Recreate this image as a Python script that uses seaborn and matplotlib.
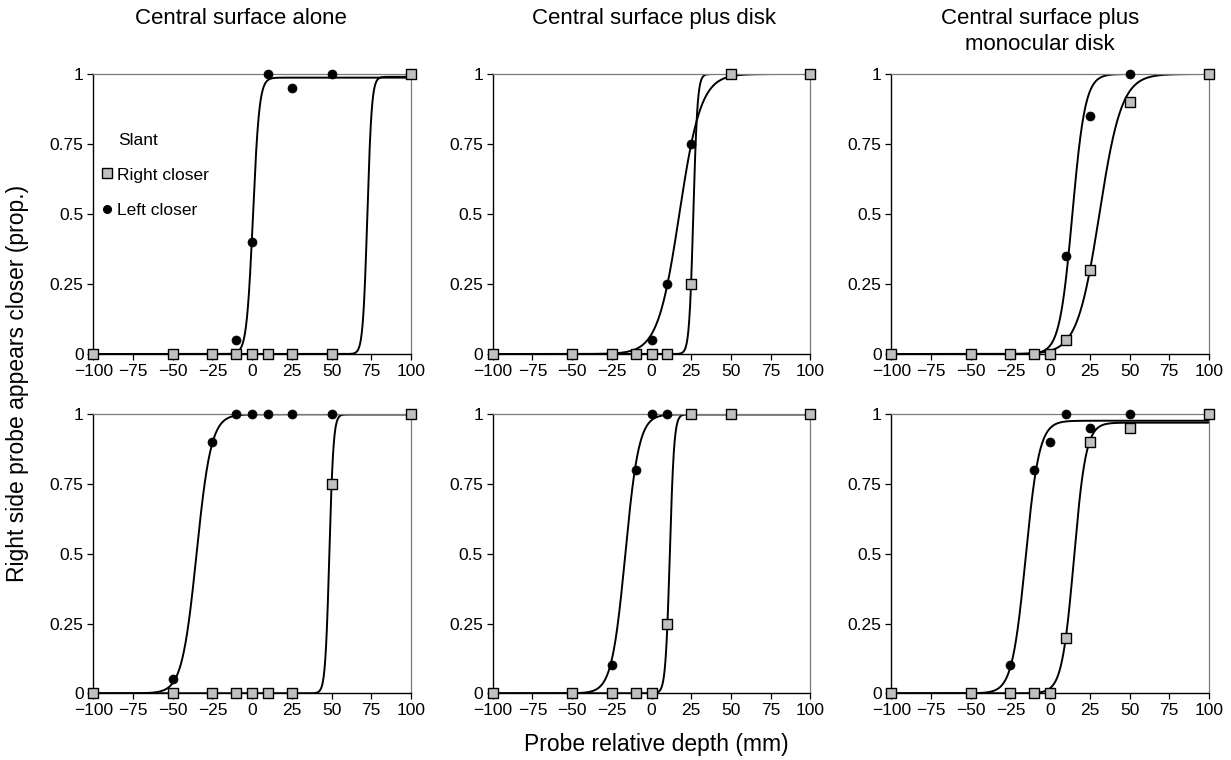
import numpy as np
import pandas as pd
import matplotlib
matplotlib.use("Agg")
import matplotlib.pyplot as plt
from matplotlib.lines import Line2D
import seaborn as sns

# ---------------- data ----------------
probe_depth = [-100, -50, -25, -10, 0, 10, 25, 50, 100]

panel_titles = ["Central surface alone", "Central surface plus disk",
                "Central surface plus\nmonocular disk",
                None, None, None]

# proportions "right side appears closer", one list per panel (row-major)
right_closer = [
    [0, 0, 0, 0, 0, 0, 0, 0, 1],
    [0, 0, 0, 0, 0, 0, 0.25, 1, 1],
    [0, 0, 0, 0, 0, 0.05, 0.30, 0.90, 1],
    [0, 0, 0, 0, 0, 0, 0, 0.75, 1],
    [0, 0, 0, 0, 0, 0.25, 1, 1, 1],
    [0, 0, 0, 0, 0, 0.20, 0.90, 0.95, 1],
]
left_closer = [
    [0, 0, 0, 0.05, 0.40, 1, 0.95, 1, 1],
    [0, 0, 0, 0, 0.05, 0.25, 0.75, 1, 1],
    [0, 0, 0, 0, 0, 0.35, 0.85, 1, 1],
    [0, 0.05, 0.90, 1, 1, 1, 1, 1, 1],
    [0, 0, 0.10, 0.80, 1, 1, 1, 1, 1],
    [0, 0, 0.10, 0.80, 0.90, 1, 0.95, 1, 1],
]

# fitted psychometric (logistic) parameters per panel: midpoint, spread, asymptote
right_mu = [72.5, 26.3, 31.0, 48.6, 11.5, 15.0]
right_s = [1.4, 1.3, 7.0, 1.3, 1.36, 3.8]
right_lam = [0.99, 1.0, 1.0, 1.0, 1.0, 0.97]
left_mu = [0.5, 17.5, 14.0, -35.0, -16.5, -15.4]
left_s = [2.0, 6.8, 4.05, 4.6, 4.3, 4.3]
left_lam = [0.987, 1.0, 1.0, 1.0, 1.0, 0.977]

# ---------------- style ----------------
sns.set_style("white")
plt.rcParams["font.family"] = ["Liberation Sans", "DejaVu Sans"]
plt.rcParams["axes.unicode_minus"] = True
plt.rcParams["text.color"] = "black"
plt.rcParams["xtick.color"] = "black"
plt.rcParams["ytick.color"] = "black"

W, H = 1231, 760
fig = plt.figure(figsize=(W / 100, H / 100), dpi=100)

col_left = [93.3, 492.7, 891.3]
ax_w = 317.7
row_top = [74.0, 414.3]
ax_h = [280.0, 279.0]
title_cx = [241, 654, 1040]

def logistic(x, mu, s, lam):
    return lam / (1.0 + np.exp(-(x - mu) / s))

xgrid = np.linspace(-100, 100, 1601)

for i in range(6):
    r, c = divmod(i, 3)
    left = col_left[c] / W
    bottom = 1 - (row_top[r] + ax_h[r]) / H
    ax = fig.add_axes([left, bottom, ax_w / W, ax_h[r] / H])

    curves = pd.DataFrame({
        "x": np.concatenate([xgrid, xgrid]),
        "y": np.concatenate([logistic(xgrid, right_mu[i], right_s[i], right_lam[i]),
                             logistic(xgrid, left_mu[i], left_s[i], left_lam[i])]),
        "series": ["Right closer"] * len(xgrid) + ["Left closer"] * len(xgrid),
    })
    sns.lineplot(data=curves, x="x", y="y", units="series", estimator=None,
                 color="black", lw=1.4, ax=ax, legend=False)

    pts_left = pd.DataFrame({"x": probe_depth, "y": left_closer[i]})
    pts_right = pd.DataFrame({"x": probe_depth, "y": right_closer[i]})
    sns.scatterplot(data=pts_left, x="x", y="y", marker="o", s=42,
                    color="black", edgecolor="black", linewidth=0.5,
                    ax=ax, clip_on=False, zorder=5, legend=False)
    sns.scatterplot(data=pts_right, x="x", y="y", marker="s", s=62,
                    color="#c0c0c0", edgecolor="black", linewidth=1.0,
                    ax=ax, clip_on=False, zorder=6, legend=False)

    ax.set_xlim(-100, 100)
    ax.set_ylim(0, 1)
    ax.set_xticks([-100, -75, -50, -25, 0, 25, 50, 75, 100])
    ax.set_yticks([0, 0.25, 0.5, 0.75, 1])
    ax.set_yticklabels(["0", "0.25", "0.5", "0.75", "1"])
    ax.set_xlabel("")
    ax.set_ylabel("")
    ax.tick_params(axis="both", direction="out", length=4.5, width=0.9,
                   labelsize=12.5, color="black", labelcolor="black",
                   bottom=True, left=True, top=False, right=False)
    ax.tick_params(axis="x", pad=2.5)
    ax.tick_params(axis="y", pad=2.5)
    for side in ["left", "bottom"]:
        ax.spines[side].set_color("black")
        ax.spines[side].set_linewidth(1.0)
    for side in ["top", "right"]:
        ax.spines[side].set_color("#7a7a7a")
        ax.spines[side].set_linewidth(0.9)
        ax.spines[side].set_visible(True)

    if panel_titles[i] is not None:
        fig.text(title_cx[c] / W, 1 - 8 / H, panel_titles[i],
                 ha="center", va="top", fontsize=16, linespacing=1.3,
                 color="black")

    if i == 0:
        ax.text(0.079, 0.764, "Slant", transform=ax.transAxes,
                ha="left", va="center", fontsize=12.5, color="black")
        handles = [
            Line2D([], [], marker="s", linestyle="none", markersize=7,
                   markerfacecolor="#c0c0c0", markeredgecolor="black",
                   markeredgewidth=1.0),
            Line2D([], [], marker="o", linestyle="none", markersize=5.5,
                   markerfacecolor="black", markeredgecolor="black"),
        ]
        leg = ax.legend(handles, ["Right closer", "Left closer"],
                        loc="upper left", bbox_to_anchor=(-0.013, 0.71),
                        frameon=False, fontsize=12.5,
                        handlelength=0.6, handletextpad=0.3,
                        labelspacing=1.2, borderpad=0.2)
        for t in leg.get_texts():
            t.set_color("black")

fig.text(18 / W, 1 - 383.5 / H, "Right side probe appears closer (prop.)",
         rotation=90, ha="center", va="center", fontsize=16.5, color="black")
fig.text(656 / W, 1 - 745 / H, "Probe relative depth (mm)",
         ha="center", va="center", fontsize=16.5, color="black")

fig.savefig("out.png", dpi=100)
